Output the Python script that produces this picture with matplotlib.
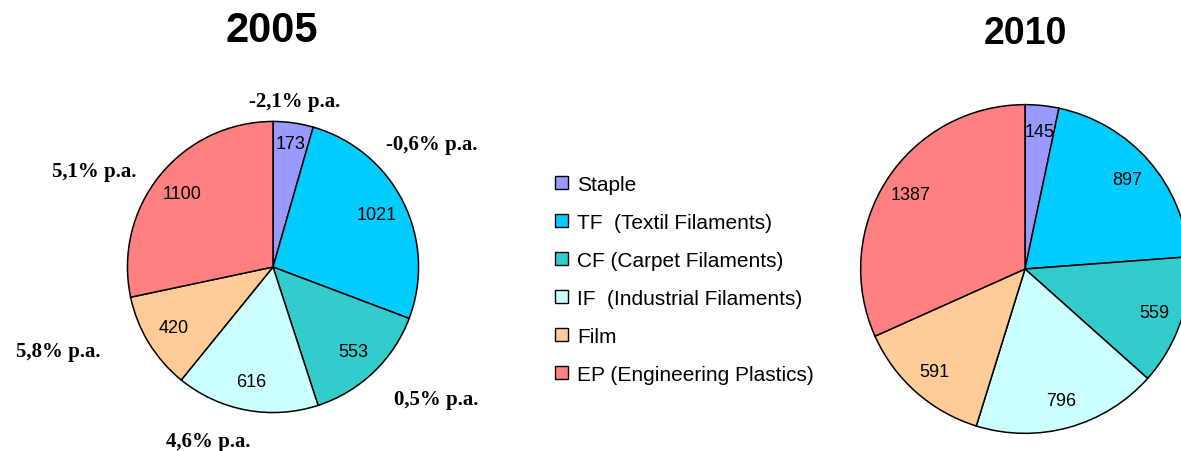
import numpy as np
import matplotlib
matplotlib.use("Agg")
import matplotlib.pyplot as plt

# polyester demand by segment (kt) and growth per annum
segments = ["Staple", "TF  (Textil Filaments)", "CF (Carpet Filaments)",
            "IF  (Industrial Filaments)", "Film", "EP (Engineering Plastics)"]
values_2005 = [173, 1021, 553, 616, 420, 1100]
values_2010 = [145, 897, 559, 796, 591, 1387]
growth = ["-2,1% p.a.", "-0,6% p.a.", "0,5% p.a.", "4,6% p.a.", "5,8% p.a.", "5,1% p.a."]

colors = ["#9999FF", "#00CCFF", "#33CCCC", "#CCFFFF", "#FFCC99", "#FF8080"]

W, H = 1181, 452
fig = plt.figure(figsize=(W / 100, H / 100), dpi=100)


def px_axes(cx, cy, r):
    # square axes centred on (cx, cy) in pixels from the top-left corner
    return fig.add_axes([(cx - r) / W, (H - cy - r) / H, 2 * r / W, 2 * r / H])


def draw_pie(ax, values, dist, first_dist):
    wedges, texts = ax.pie(values, colors=colors, startangle=90, counterclock=False,
                           labels=[str(v) for v in values], labeldistance=dist,
                           wedgeprops=dict(edgecolor="black", linewidth=1.1),
                           textprops=dict(family="Liberation Sans", fontsize=13))
    for i, (w, t) in enumerate(zip(wedges, texts)):
        ang = np.deg2rad((w.theta1 + w.theta2) / 2)
        d = first_dist if i == 0 else dist
        t.set_position((d * np.cos(ang), d * np.sin(ang)))
        t.set_ha("center")
        t.set_va("center")
    ax.set_xlim(-1.01, 1.01)
    ax.set_ylim(-1.01, 1.01)
    return wedges


ax1 = px_axes(273, 268, 147)
wedges = draw_pie(ax1, values_2005, 0.80, 0.86)

ax2 = px_axes(1025, 270, 166)
draw_pie(ax2, values_2010, 0.83, 0.84)

fig.text(272 / W, 1 - 31 / H, "2005", ha="center", va="center",
         family="Liberation Sans", fontweight="bold", fontsize=30)
fig.text(1025 / W, 1 - 34 / H, "2010", ha="center", va="center",
         family="Liberation Sans", fontweight="bold", fontsize=27)

# growth rates around the 2005 pie
growth_pos = [(295, 102), (432, 145), (436, 400), (208, 442), (58, 352), (94, 172)]
for txt, (x, y) in zip(growth, growth_pos):
    fig.text(x / W, 1 - y / H, txt, ha="center", va="center",
             family="Liberation Serif", fontweight="bold", fontsize=15)

leg = fig.legend(wedges, segments, loc="upper left",
                 bbox_to_anchor=(555 / W, 1 - 176 / H),
                 frameon=False, prop=dict(family="Liberation Sans", size=15),
                 handlelength=0.63, handleheight=0.63, handletextpad=0.43,
                 labelspacing=0.91, borderpad=0, borderaxespad=0)
for h in leg.legend_handles:
    h.set_edgecolor("black")
    h.set_linewidth(1.0)

fig.savefig("out.png", dpi=100)
